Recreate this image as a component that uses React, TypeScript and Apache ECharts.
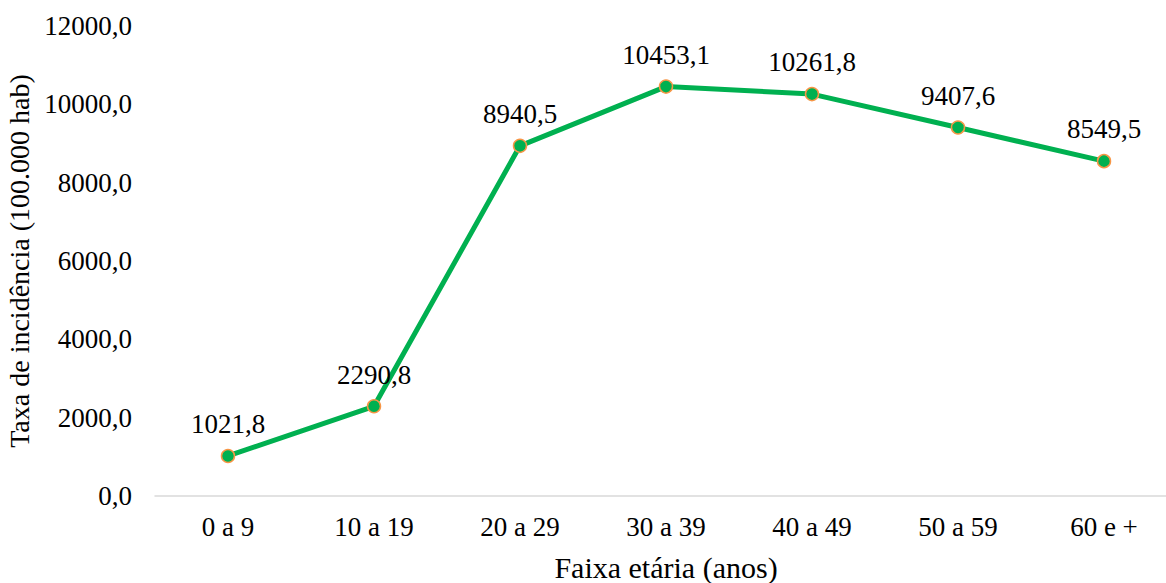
import React, { useEffect, useRef } from "react";
import * as echarts from "echarts";

const categories = ["0 a 9", "10 a 19", "20 a 29", "30 a 39", "40 a 49", "50 a 59", "60 e +"];
const values = [1021.8, 2290.8, 8940.5, 10453.1, 10261.8, 9407.6, 8549.5];
const xAxisName = "Faixa etária (anos)";
const yAxisName = "Taxa de incidência (100.000 hab)";

const fmt = (v: number) => v.toFixed(1).replace(".", ",");
const FONT = "'Liberation Serif', 'Times New Roman', serif";

export default function App() {
  const ref = useRef<HTMLDivElement>(null);
  useEffect(() => {
    if (!ref.current) return;
    const chart = echarts.init(ref.current, null, { renderer: "svg" });
    chart.setOption({
      animation: false,
      backgroundColor: "#ffffff",
      textStyle: { fontFamily: FONT },
      grid: {
        left: 155,
        top: 26,
        width: 1022,
        height: 470,
        containLabel: false,
        outerBoundsMode: "none",
      },
      xAxis: {
        type: "category",
        data: categories,
        boundaryGap: true,
        name: xAxisName,
        nameLocation: "middle",
        nameGap: 56,
        nameTextStyle: { fontFamily: FONT, fontSize: 30, color: "#000" },
        axisLine: { show: true, lineStyle: { color: "#d9d9d9", width: 1.5 } },
        axisTick: { show: false },
        axisLabel: { fontFamily: FONT, fontSize: 27, color: "#000", margin: 17 },
        splitLine: { show: false },
      },
      yAxis: {
        type: "value",
        min: 0,
        max: 12000,
        interval: 2000,
        name: yAxisName,
        nameLocation: "middle",
        nameGap: 112,
        nameTextStyle: { fontFamily: FONT, fontSize: 28, color: "#000" },
        axisLine: { show: false },
        axisTick: { show: false },
        splitLine: { show: false },
        axisLabel: {
          fontFamily: FONT,
          fontSize: 27,
          color: "#000",
          margin: 23,
          formatter: (v: number) => fmt(v),
        },
      },
      series: [
        {
          type: "line",
          data: values,
          lineStyle: { color: "#00b050", width: 5 },
          symbol: "circle",
          symbolSize: 13,
          itemStyle: { color: "#00b050", borderColor: "#f79646", borderWidth: 1.5 },
          label: {
            show: true,
            position: "top",
            distance: 11,
            fontFamily: FONT,
            fontSize: 27,
            color: "#000",
            formatter: (p: any) => fmt(p.value),
          },
        },
      ],
    });
    return () => chart.dispose();
  }, []);
  return (
    <div
      ref={ref}
      style={{ position: "absolute", left: 0, top: 0, width: 1166, height: 583 }}
    />
  );
}
